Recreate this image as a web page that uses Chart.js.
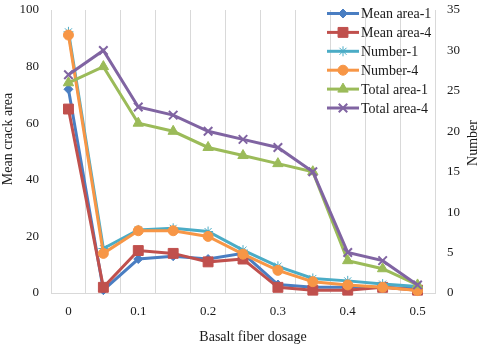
<!DOCTYPE html>
<html>
<head>
<meta charset="utf-8">
<script src="https://cdn.jsdelivr.net/npm/chart.js@4/dist/chart.umd.min.js"></script>
<style>
  html, body { margin: 0; padding: 0; background: #fff; }
  #wrap { width: 480px; height: 347px; position: relative; }
</style>
</head>
<body>
<div id="wrap"><canvas id="c" width="480" height="347"></canvas></div>
<script>
const categories = ['0', '0.05', '0.1', '0.15', '0.2', '0.25', '0.3', '0.35', '0.4', '0.45', '0.5'];
const meanArea1 = [72, 1, 12, 13, 12, 14, 3, 2, 2, 2, 1.5];
const meanArea4 = [65, 2, 15, 14, 11, 12, 2, 1, 1, 2, 1];
const number1 = [32.3, 5.5, 7.8, 8, 7.6, 5.3, 3.3, 1.8, 1.5, 1.1, 0.8];
const number4 = [31.9, 4.9, 7.7, 7.7, 7, 4.8, 2.8, 1.4, 1, 0.7, 0.3];
const totalArea1 = [26, 28, 21, 20, 18, 17, 16, 15, 4, 3, 1];
const totalArea4 = [27, 30, 23, 22, 20, 19, 18, 15, 5, 4, 1];
const leftTicks = [0, 20, 40, 60, 80, 100];
const rightTicks = [0, 5, 10, 15, 20, 25, 30, 35];
const xTitle = 'Basalt fiber dosage';
const yTitle = 'Mean crack area';
const y1Title = 'Number';

const FONT = '"Liberation Serif", "Times New Roman", serif';
const TXT = '#1a1a1a';
const GRID = '#d9d9d9';

function ds(label, data, color, style, radius, axis, order) {
  return {
    label, data, yAxisID: axis, order,
    borderColor: color, backgroundColor: color,
    borderWidth: 3, pointStyle: style, pointRadius: radius,
    pointBorderWidth: 1, pointBorderColor: color, pointBackgroundColor: color,
    pointHoverRadius: radius, tension: 0, clip: false
  };
}

const datasets = [
  ds('Mean area-1', meanArea1, '#4A7EC2', 'rectRot', 4.5, 'y', 6),
  ds('Mean area-4', meanArea4, '#C0504D', 'rect', 7, 'y', 5),
  ds('Number-1', number1, '#4BACC6', 'star', 5, 'y1', 4),
  ds('Number-4', number4, '#F79646', 'circle', 5, 'y1', 3),
  ds('Total area-1', totalArea1, '#9BBB59', 'triangle', 6, 'y1', 2),
  ds('Total area-4', totalArea4, '#8064A2', 'crossRot', 6, 'y1', 1)
];
datasets.forEach(d => { if (d.pointStyle === 'crossRot') { d.pointBorderWidth = 2; } });

const customLegendAndTitles = {
  id: 'customLegendAndTitles',
  afterDatasetsDraw(chart) {
    const ctx = chart.ctx;
    ctx.save();
    const x0 = 327, x1 = 359, tx = 361, y0 = 13.5, step = 18.9;
    chart.data.datasets.forEach((d, i) => {
      const y = y0 + i * step;
      ctx.strokeStyle = d.borderColor;
      ctx.lineWidth = 3;
      ctx.beginPath(); ctx.moveTo(x0, y); ctx.lineTo(x1, y); ctx.stroke();
      ctx.fillStyle = d.pointBackgroundColor;
      ctx.strokeStyle = d.pointBorderColor;
      ctx.lineWidth = d.pointBorderWidth;
      if (Chart.helpers && Chart.helpers.drawPoint) {
        Chart.helpers.drawPoint(ctx, {pointStyle: d.pointStyle, radius: d.pointRadius, rotation: 0, borderWidth: d.pointBorderWidth}, (x0 + x1) / 2, y);
      }
      ctx.fillStyle = TXT;
      ctx.font = '14px ' + FONT;
      ctx.textAlign = 'left';
      ctx.textBaseline = 'middle';
      ctx.fillText(d.label, tx, y + 1);
    });
    ctx.fillStyle = TXT;
    ctx.font = '14px ' + FONT;
    ctx.textAlign = 'center';
    ctx.textBaseline = 'middle';
    ctx.fillText(xTitle, 253, 337);
    ctx.save();
    ctx.translate(8, 139); ctx.rotate(-Math.PI / 2);
    ctx.fillText(yTitle, 0, 0);
    ctx.restore();
    ctx.save();
    ctx.translate(473, 143); ctx.rotate(-Math.PI / 2);
    ctx.fillText(y1Title, 0, 0);
    ctx.restore();
    ctx.restore();
  }
};

new Chart(document.getElementById('c'), {
  type: 'line',
  data: { labels: categories, datasets },
  options: {
    responsive: false,
    animation: false,
    devicePixelRatio: 1,
    layout: { padding: { top: 10, left: 0, right: 0, bottom: 0 } },
    plugins: { legend: { display: false }, tooltip: { enabled: false } },
    scales: {
      x: {
        type: 'category',
        offset: true,
        grid: { display: true, offset: true, color: GRID, lineWidth: 1, drawTicks: false },
        border: { display: true, color: GRID, width: 1 },
        ticks: {
          autoSkip: false, maxRotation: 0, padding: 11,
          color: TXT, font: { family: FONT, size: 13 },
          callback: (v, i) => (i % 2 === 0 ? categories[i] : '')
        },
        afterFit: s => { s.height = 54; s.paddingLeft = 0; s.paddingRight = 0; }
      },
      y: {
        position: 'left', min: 0, max: 100,
        afterBuildTicks: s => { s.ticks = leftTicks.map(v => ({ value: v })); },
        grid: { display: false, drawTicks: false },
        border: { display: true, color: GRID, width: 1 },
        ticks: { padding: 12, color: TXT, font: { family: FONT, size: 13 } },
        afterFit: s => { s.width = 51; s.paddingTop = 0; s.paddingBottom = 0; }
      },
      y1: {
        position: 'right', min: 0, max: 35,
        afterBuildTicks: s => { s.ticks = rightTicks.map(v => ({ value: v })); },
        grid: { display: false, drawTicks: false },
        border: { display: false },
        ticks: { padding: 12, color: TXT, font: { family: FONT, size: 13 } },
        afterFit: s => { s.width = 45; s.paddingTop = 0; s.paddingBottom = 0; }
      }
    }
  },
  plugins: [customLegendAndTitles]
});
</script>
</body>
</html>
